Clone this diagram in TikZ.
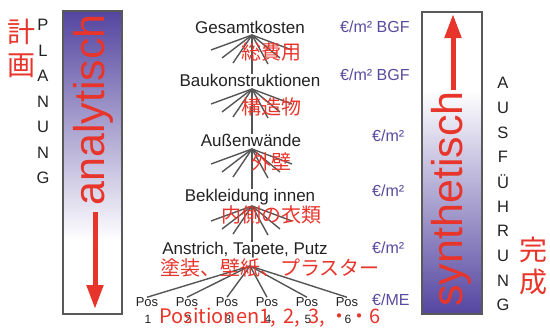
\documentclass[tikz,border=0pt]{standalone}
\usepackage{fontspec}
\setmainfont{Liberation Sans}
\newfontfamily\jp{Noto Sans CJK JP}
\usetikzlibrary{arrows.meta}
\definecolor{barpurple}{HTML}{5445A0}
\definecolor{redtxt}{HTML}{E8352B}
\definecolor{eurotxt}{HTML}{5A4A9E}
\definecolor{darktxt}{HTML}{222222}
\definecolor{fangray}{HTML}{555555}
\pgfdeclareverticalshading{leftbar}{100bp}{color(0bp)=(white); color(25bp)=(white); color(37bp)=(white); color(75bp)=(barpurple); color(100bp)=(barpurple)}
\pgfdeclareverticalshading{rightbar}{100bp}{color(0bp)=(barpurple); color(25bp)=(barpurple); color(62bp)=(white); color(75bp)=(white); color(100bp)=(white)}
\tikzset{
  lvl/.style={inner sep=0pt, text=darktxt, font=\fontsize{17}{17}\selectfont},
  jplbl/.style={inner sep=0pt, text=redtxt, font=\jp\fontsize{20}{20}\selectfont},
  euro/.style={inner sep=0pt, anchor=west, text=eurotxt, font=\fontsize{16}{16}\selectfont},
  letter/.style={inner sep=0pt, text=darktxt, font=\fontsize{16.5}{16.5}\selectfont},
  bigjp/.style={inner sep=0pt, text=redtxt, font=\jp\fontsize{28}{28}\selectfont},
  bigword/.style={inner sep=0pt, text=redtxt, rotate=90, font=\fontsize{43}{43}\selectfont},
  posn/.style={inner sep=0pt, text=darktxt, font=\fontsize{13}{13}\selectfont},
  numn/.style={inner sep=0pt, text=darktxt, font=\fontsize{12}{12}\selectfont},
  fanline/.style={draw=fangray, line width=1.4pt},
  bigarrow/.style={draw=redtxt, line width=5pt, -{Triangle[length=24pt,width=16pt]}},
  barframe/.style={draw=black!65, line width=1.5pt}
}
\begin{document}
\begin{tikzpicture}[x=1pt,y=-1pt]
\useasboundingbox (0,0) rectangle (550,332);
% bars
\shade[shading=leftbar] (63,11) rectangle (122,314);
\draw[barframe] (63,11) rectangle (122,314);
\shade[shading=rightbar] (422,12) rectangle (482,314);
\draw[barframe] (422,12) rectangle (482,314);
\node[bigword] (ana) at (93,110) {analytisch};
\coordinate (la1) at (95,212);
\coordinate (la2) at (95,309);
\draw[bigarrow] (la1) -- (la2);
\node[bigword] (syn) at (451,199) {synthetisch};
\coordinate (ra1) at (453,90);
\coordinate (ra2) at (453,14);
\draw[bigarrow] (ra1) -- (ra2);
% side letters
\foreach \ch [count=\i from 0] in {P,L,A,N,U,N,G}
  \node[letter] (pl\i) at (43,{25+25.5*\i}) {\ch};
\foreach \ch [count=\i from 0] in {A,U,S,F,Ü,H,R,U,N,G}
  \node[letter] (au\i) at (503,{83+24.7*\i}) {\ch};
\node[bigjp] (ke) at (21,32) {計};
\node[bigjp] (ka) at (21,66) {画};
\node[bigjp] (kan) at (533,250) {完};
\node[bigjp] (sei) at (533,282) {成};
% tree levels
\node[lvl] (G) at (250,27) {Gesamtkosten};
\node[lvl] (B) at (250,80) {Baukonstruktionen};
\node[lvl] (A) at (251,140) {Außenwände};
\node[lvl] (K) at (250,197) {Bekleidung innen};
\node[lvl] (S) at (245,250) {Anstrich, Tapete, Putz};
\coordinate (a1) at (252,35);
\coordinate (a2) at (252,89);
\coordinate (a3) at (252,149);
\coordinate (a4) at (252,206);
\coordinate (a5) at (250,266);
\foreach \ap in {a1,a2,a3,a4}
  \foreach \dx/\dy in {-41/15,-30/23,-19/28,16/29,28/23,40/15}
    \draw[fanline] (\ap) -- ++(\dx,\dy);
\draw[fanline] (a1) -- (a1 |- B.north);
\draw[fanline] (a2) -- (a2 |- A.north);
\draw[fanline] (a3) -- (a3 |- K.north);
\draw[fanline] (a4) -- (a4 |- S.north);
% positions
\foreach \i in {1,...,6} {
  \node[posn] (p\i) at ({147+40*(\i-1)},302) {Pos};
  \node[numn] (n\i) at ({148+40*(\i-1)},319) {\i};
  \draw[fanline] (a5) -- (p\i.north);
}
% japanese labels
\node[jplbl] (j1) at (271,52) {総費用};
\node[jplbl] (j2) at (271,107) {構造物};
\node[jplbl] (j3) at (271,162) {外壁};
\node[jplbl] (j4) at (271,215) {内側の衣類};
\node[jplbl] (j5) at (270,268) {塗装、壁紙、プラスター};
\node[jplbl] (j6) at (270,318) {Positionen1,\ \,2,\ \,3,\ ・・6};
% euro labels
\node[euro] (e1) at (340,27) {€/m² BGF};
\node[euro] (e2) at (340,75) {€/m² BGF};
\node[euro] (e3) at (372,136) {€/m²};
\node[euro] (e4) at (372,191) {€/m²};
\node[euro] (e5) at (372,248) {€/m²};
\node[euro] (e6) at (372,300) {€/ME};
\end{tikzpicture}
\end{document}
